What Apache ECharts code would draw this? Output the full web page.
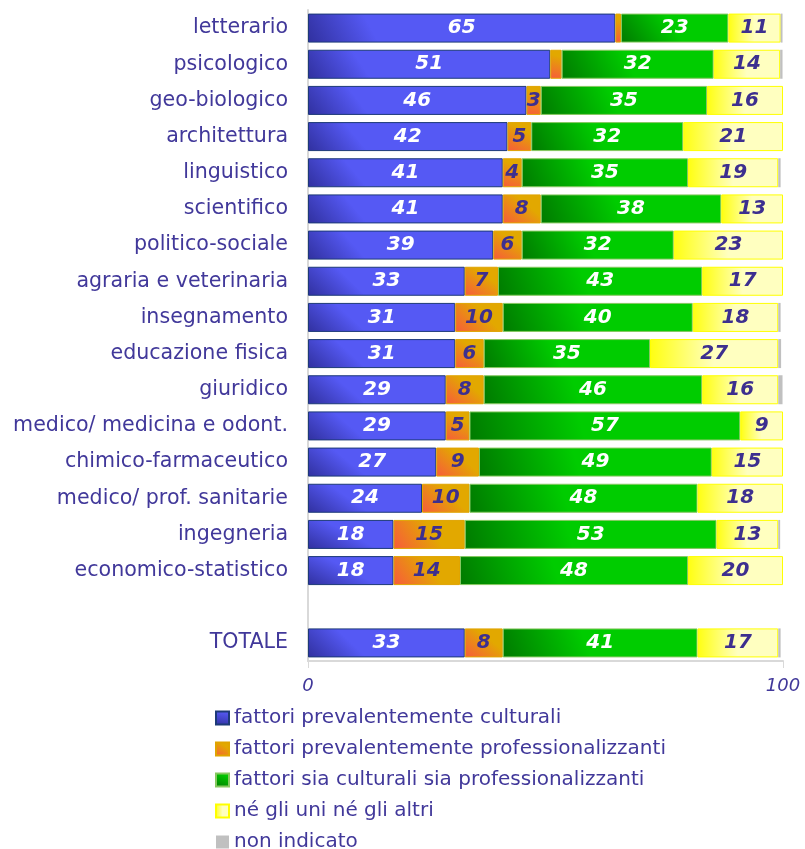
<!DOCTYPE html>
<html>
<head>
<meta charset="utf-8">
<script src="https://cdn.jsdelivr.net/npm/echarts@6/dist/echarts.min.js"></script>
<style>
  html, body { margin: 0; padding: 0; background: #fff; }
  #main { width: 805px; height: 849px; }
</style>
</head>
<body>
<div id="main"></div>
<script>
  const categories = ['letterario', 'psicologico', 'geo-biologico', 'architettura', 'linguistico',
    'scientifico', 'politico-sociale', 'agraria e veterinaria', 'insegnamento', 'educazione fisica',
    'giuridico', 'medico/ medicina e odont.', 'chimico-farmaceutico', 'medico/ prof. sanitarie',
    'ingegneria', 'economico-statistico', '', 'TOTALE'];

  const culturali = [64.7, 51, 46, 42, 41, 41, 39, 33, 31, 31, 29, 29, 27, 24, 18, 18, '-', 33];
  const professionali = [1.2, 2.4, 3, 5, 4, 8, 6, 7, 10, 6, 8, 5, 9, 10, 15, 14, '-', 8];
  const entrambi = [22.6, 32, 35, 32, 35, 38, 32, 43, 40, 35, 46, 57, 49, 48, 53, 48, '-', 41];
  const nessuno = [11, 14, 16, 21, 19, 13, 23, 17, 18, 27, 16, 9, 15, 18, 13, 20, '-', 17];
  const nonIndicato = [0.4, 0.5, 0.3, 0.3, 0.5, 0.3, 0.4, 0.3, 0.5, 0.6, 0.9, 0.4, 0.4, 0.4, 0.4, 0.3, '-', 0.5];

  const names = ['fattori prevalentemente culturali', 'fattori prevalentemente professionalizzanti',
    'fattori sia culturali sia professionalizzanti', 'né gli uni né gli altri', 'non indicato'];

  const txt = '#41389a';
  const grad = (x0, y0, x1, y1, c0, c1) => new echarts.graphic.LinearGradient(x0, y0, x1, y1,
    [{ offset: 0, color: c0 }, { offset: 1, color: c1 }]);

  function serie(name, data, itemStyle, labelColor) {
    return {
      name: name,
      type: 'bar',
      stack: 'tot',
      barWidth: 29,
      data: data,
      itemStyle: itemStyle,
      label: {
        show: labelColor != null,
        position: 'inside',
        color: labelColor,
        fontFamily: 'DejaVu Sans',
        fontSize: 20,
        fontWeight: 'bold',
        fontStyle: 'italic',
        formatter: (p) => Math.round(p.value) >= 3 ? Math.round(p.value) : ''
      },
      emphasis: { disabled: true }
    };
  }

  var chart = echarts.init(document.getElementById('main'));
  var option = {
    animation: false,
    grid: { left: 308, right: 22, top: 10, height: 651 },
    legend: {
      orient: 'vertical',
      left: 215,
      top: 708,
      height: 170,
      padding: 0,
      itemWidth: 13,
      itemHeight: 13,
      itemGap: 11,
      icon: 'rect',
      textStyle: { color: txt, fontSize: 20, fontFamily: 'DejaVu Sans' }
    },
    xAxis: {
      type: 'value',
      min: 0,
      max: 100,
      interval: 100,
      axisLine: { show: true, lineStyle: { color: '#d9d9d9', width: 2 } },
      axisTick: { show: true, length: 7, lineStyle: { color: '#d9d9d9' } },
      splitLine: { show: false },
      axisLabel: { color: txt, fontSize: 18, fontStyle: 'italic', fontFamily: 'DejaVu Sans', margin: 16 }
    },
    yAxis: {
      type: 'category',
      inverse: true,
      data: categories,
      axisLine: { show: true, lineStyle: { color: '#d9d9d9', width: 2 } },
      axisTick: { show: false },
      axisLabel: { color: txt, fontSize: 20.6, fontFamily: 'DejaVu Sans', margin: 20 }
    },
    series: [
      serie(names[0], culturali, {
        color: grad(0, 1, 0.18, 0, '#30309e', '#5559f4'),
        borderColor: '#1d3a78', borderWidth: 1
      }, '#ffffff'),
      serie(names[1], professionali, {
        color: grad(0, 1, 0.5, 0.2, '#f85a3c', '#e2a800'),
        borderColor: '#e0a400', borderWidth: 1
      }, '#3d2f8f'),
      serie(names[2], entrambi, {
        color: grad(0, 1, 0.4, 0, '#007a00', '#00cc00'),
        borderColor: '#86c860', borderWidth: 1
      }, '#ffffff'),
      serie(names[3], nessuno, {
        color: grad(0, 0, 0.5, 0, '#ffff10', '#ffffc0'),
        borderColor: '#ffff00', borderWidth: 1
      }, '#3d2f8f'),
      serie(names[4], nonIndicato, { color: '#c0c0c0' }, null)
    ]
  };
  option && chart.setOption(option);
</script>
</body>
</html>
